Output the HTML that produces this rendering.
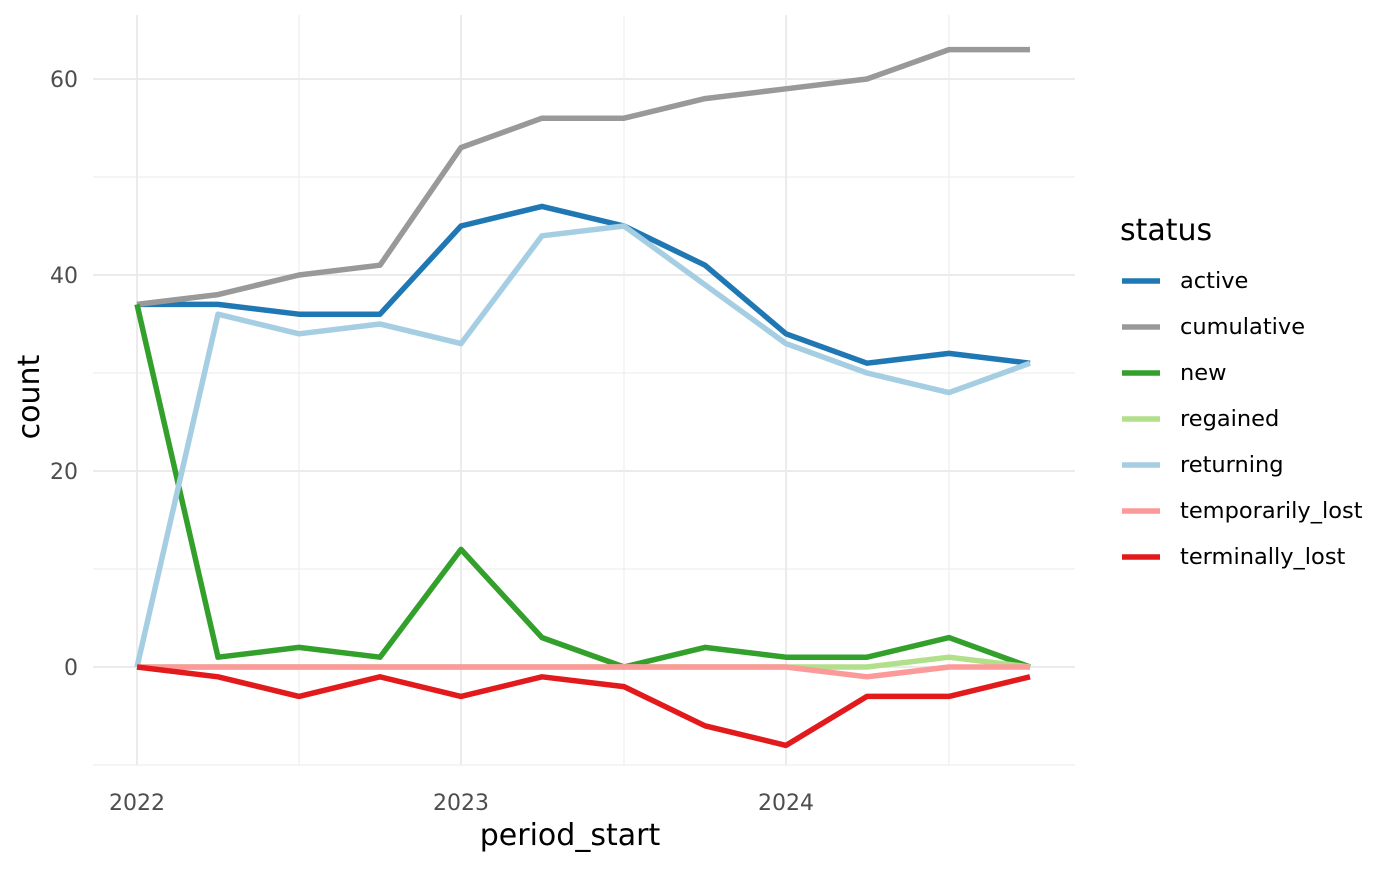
<!DOCTYPE html>
<html><head><meta charset="utf-8"><style>body{margin:0;background:#fff}</style></head><body>
<svg width="1400" height="865" xmlns="http://www.w3.org/2000/svg" font-family="DejaVu Sans, Liberation Sans, sans-serif">
<rect width="1400" height="865" fill="#fff"/>
<g stroke="#ebebeb" stroke-width="1">
<line x1="93" x2="1075" y1="765" y2="765"/><line x1="93" x2="1075" y1="569" y2="569"/>
<line x1="93" x2="1075" y1="373" y2="373"/><line x1="93" x2="1075" y1="177" y2="177"/>
<line x1="299" x2="299" y1="15" y2="765"/><line x1="624" x2="624" y1="15" y2="765"/><line x1="949" x2="949" y1="15" y2="765"/>
</g>
<g stroke="#ebebeb" stroke-width="2">
<line x1="93" x2="1075" y1="667" y2="667"/><line x1="93" x2="1075" y1="471" y2="471"/>
<line x1="93" x2="1075" y1="275" y2="275"/><line x1="93" x2="1075" y1="79" y2="79"/>
<line x1="137" x2="137" y1="15" y2="765"/><line x1="461" x2="461" y1="15" y2="765"/><line x1="786" x2="786" y1="15" y2="765"/>
</g>
<g fill="none" stroke-width="5.5" stroke-linejoin="round">
<polyline stroke="#1f78b4" points="137,304.4 218,304.4 299,314.2 380,314.2 461,226 542,206.4 624,226 705,265.2 786,333.8 867,363.2 949,353.4 1030,363.2"/>
<polyline stroke="#999999" points="137,304.4 218,294.6 299,275 380,265.2 461,147.6 542,118.2 624,118.2 705,98.6 786,88.8 867,79 949,49.6 1030,49.6"/>
<polyline stroke="#33a02c" points="137,304.4 218,657.2 299,647.4 380,657.2 461,549.4 542,637.6 624,667 705,647.4 786,657.2 867,657.2 949,637.6 1030,667"/>
<polyline stroke="#b2df8a" points="137,667 786,667 867,667 949,657.2 1030,667"/>
<polyline stroke="#a6cee3" points="137,667 218,314.2 299,333.8 380,324 461,343.6 542,235.8 624,226 705,284.8 786,343.6 867,373 949,392.6 1030,363.2"/>
<polyline stroke="#fb9a99" points="137,667 786,667 867,676.8 949,667 1030,667"/>
<polyline stroke="#e31a1c" points="137,667 218,676.8 299,696.4 380,676.8 461,696.4 542,676.8 624,686.6 705,725.8 786,745.4 867,696.4 949,696.4 1030,676.8"/>
</g>
<g font-size="22" fill="#4d4d4d" text-anchor="end">
<text x="78" y="87">60</text><text x="78" y="283">40</text><text x="78" y="479">20</text><text x="78" y="675">0</text>
</g>
<g font-size="22" fill="#4d4d4d" text-anchor="middle">
<text x="137" y="810">2022</text><text x="461" y="810">2023</text><text x="786" y="810">2024</text>
</g>
<text x="570" y="845" font-size="30" text-anchor="middle" fill="#000">period_start</text>
<text transform="translate(39,397) rotate(-90)" font-size="30" text-anchor="middle" fill="#000">count</text>
<text x="1120" y="240" font-size="30" fill="#000">status</text>
<g stroke-width="5.5">
<line x1="1122" x2="1160" y1="281" y2="281" stroke="#1f78b4"/>
<line x1="1122" x2="1160" y1="327" y2="327" stroke="#999999"/>
<line x1="1122" x2="1160" y1="373" y2="373" stroke="#33a02c"/>
<line x1="1122" x2="1160" y1="419" y2="419" stroke="#b2df8a"/>
<line x1="1122" x2="1160" y1="465" y2="465" stroke="#a6cee3"/>
<line x1="1122" x2="1160" y1="511" y2="511" stroke="#fb9a99"/>
<line x1="1122" x2="1160" y1="557" y2="557" stroke="#e31a1c"/>
</g>
<g font-size="22.5" fill="#000">
<text x="1180" y="288">active</text><text x="1180" y="334">cumulative</text><text x="1180" y="380">new</text>
<text x="1180" y="426">regained</text><text x="1180" y="472">returning</text><text x="1180" y="518">temporarily_lost</text>
<text x="1180" y="564">terminally_lost</text>
</g>
</svg>
</body></html>
